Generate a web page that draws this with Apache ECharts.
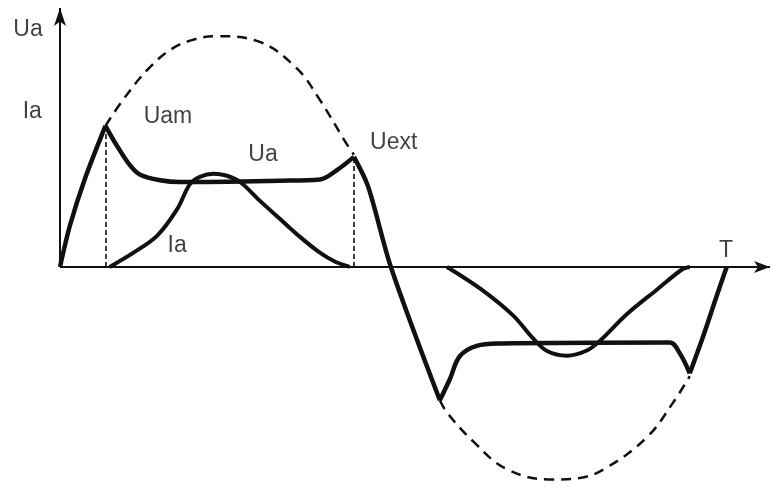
<!DOCTYPE html>
<html>
<head>
<meta charset="utf-8">
<title>Ua / Ia</title>
<script src="https://cdn.jsdelivr.net/npm/echarts@6/dist/echarts.min.js"></script>
<style>
  html, body { margin: 0; padding: 0; background: #fff; }
  #chart { width: 771px; height: 488px; }
</style>
</head>
<body>
<div id="chart"></div>
<script>
// anode voltage Ua, split at the sharp corners
const uaRise = [[0, 0], [1.4, 16.0], [3.5, 34.0], [6.4, 54.5]]
const uaUpper = [[6.4, 54.5], [8.0, 46.9], [9.9, 39.1], [11.3, 35.6], [14.1, 33.5], [16.9, 32.8], [31.0, 33.3], [36.6, 33.8], [39.0, 37.4], [41.4, 42.5]]
const uaFall = [[41.4, 42.5], [43.4, 31.0], [46.6, 0], [53.5, -51.5]]
const uaLower = [[53.5, -51.5], [54.9, -43.4], [56.3, -34.5], [58.7, -30.5], [62.0, -29.6], [85.9, -29.2], [87.3, -33.4], [88.7, -41.1]]
const uaReturn = [[88.7, -41.1], [90.6, -26.7], [92.5, -11.1], [93.9, 0]]

// anode current Ia
const iaPos = [[7.0, 0], [10.3, 5.4], [13.7, 12.1], [16.5, 22.3], [18.3, 32.0], [19.7, 34.8], [21.6, 36.0], [23.4, 35.3], [25.4, 32.7], [28.2, 25.4], [31.0, 18.5], [33.8, 11.6], [36.6, 5.5], [38.7, 2.1], [40.8, 0]]
const iaNeg = [[54.5, 0], [59.2, -8.4], [63.8, -18.7], [66.6, -27.5], [68.6, -32.5], [71.4, -34.3], [74.2, -32.3], [76.1, -28.4], [79.9, -18.1], [84.1, -8.7], [87.7, -0.8], [88.7, 0]]

// dashed sine envelope
const envPos = [[6.4, 54.5], [8.9, 64.6], [12.4, 76.4], [15.8, 84.3], [19.0, 87.9], [22.1, 89.1], [27.6, 87.4], [33.2, 77.1], [36.6, 64.5], [40.1, 48.7], [41.4, 43.3]]
const envNeg = [[53.5, -51.5], [54.5, -56.2], [58.2, -67.4], [63.0, -78.2], [69.4, -82.1], [73.2, -81.5], [77.0, -77.5], [82.7, -65.7], [86.3, -52.6], [88.7, -42.2]]

// dashed drop lines (x, top)
const dropLines = [[6.4, 54.5], [41.4, 42.5]]

// text labels
const labelNames = ['Ua', 'Ia', 'Uam', 'Ua', 'Uext', 'Ia', 'T']
const labelAt = [[-4.5, 91.5], [-3.9, 59.8], [15.2, 57.9], [28.6, 43.2], [47.0, 47.9], [16.5, 8.1], [93.8, 6.1]]

const ink = '#111'
var myChart = echarts.init(document.getElementById('chart'))

const solid = (data, w, s) => ({
  type: 'line',
  data: data,
  smooth: s,
  symbol: 'none',
  lineStyle: { color: ink, width: w },
  z: 5
})
const dashed = data => ({
  type: 'line',
  data: data,
  smooth: 0.4,
  symbol: 'none',
  lineStyle: { color: ink, width: 2.5, type: [10, 7] },
  z: 3
})

let option = {
  animation: false,
  backgroundColor: '#fff',
  grid: { left: 60, right: 1, top: 8, bottom: 1 },
  xAxis: { type: 'value', min: 0, max: 100, show: false },
  yAxis: { type: 'value', min: -85, max: 100, show: false },
  series: [
    solid(uaRise, 4.5, 0.3),
    solid(uaUpper, 4.5, 0.35),
    solid(uaFall, 4.5, 0.3),
    solid(uaLower, 4.5, 0.35),
    solid(uaReturn, 4.5, 0.3),
    solid(iaPos, 4, 0.35),
    solid(iaNeg, 4, 0.35),
    dashed(envPos),
    dashed(envNeg),
    {
      // 坐标轴 + 虚线
      type: 'line',
      data: [],
      markLine: {
        silent: true,
        animation: false,
        label: { show: false },
        data: [
          [{ coord: [0, 0], symbol: 'none', lineStyle: { color: ink, width: 2, type: 'solid' } },
           { coord: [0, 100], symbol: 'arrow', symbolSize: [9, 18] }],
          [{ coord: [0, 0], symbol: 'none', lineStyle: { color: ink, width: 2, type: 'solid' } },
           { coord: [100, 0], symbol: 'arrow', symbolSize: [9, 16] }]
        ].concat(dropLines.map(d => [
          { coord: [d[0], 0], symbol: 'none', lineStyle: { color: ink, width: 1.6, type: [5, 3] } },
          { coord: [d[0], d[1]], symbol: 'none' }
        ]))
      }
    },
    {
      type: 'scatter',
      clip: false,
      symbolSize: 0,
      data: labelAt.map((p, i) => ({ value: p, name: labelNames[i] })),
      label: {
        show: true,
        position: 'inside',
        formatter: p => p.name,
        color: ink,
        fontFamily: 'Liberation Sans, Arial, sans-serif',
        fontSize: 23
      }
    }
  ]
}

myChart.setOption(option)
</script>
</body>
</html>
